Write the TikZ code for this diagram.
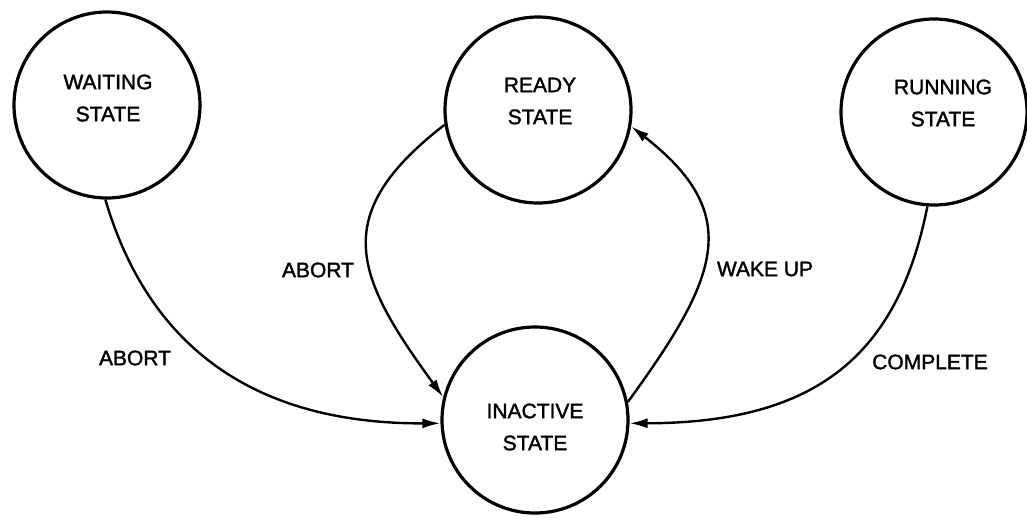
\documentclass[tikz,border=0pt]{standalone}
\usepackage{fontspec}
\setmainfont{Liberation Sans}[FakeBold=1.6,AutoFakeBold=1.6]
\usetikzlibrary{arrows.meta,calc}
\begin{document}
\begin{tikzpicture}[x=1pt,y=-1pt,
  statecircle/.style={draw,circle,line width=3.2pt,minimum size=186pt,inner sep=0pt},
  statetext/.style={align=center,font=\bfseries\fontsize{21}{32}\selectfont},
  edgelabel/.style={font=\bfseries\fontsize{21}{25}\selectfont},
  trans/.style={line width=2.4pt,-{Latex[length=18pt,width=10pt]}}]
\useasboundingbox (0,0) rectangle (1027,517);
\fill[white] (0,0) rectangle (1027,517);

% the four states
\node[statecircle] (wait)     at (107,105) {};
\node[statecircle] (ready)    at (538,110) {};
\node[statecircle] (running)  at (934,112) {};
\node[statecircle] (inactive) at (535,420) {};

\node[statetext] (waitT)     at (108,98)  {WAITING\\STATE};
\node[statetext] (readyT)    at (540,101) {READY\\STATE};
\node[statetext] (runningT)  at (943,103) {RUNNING\\STATE};
\node[statetext] (inactiveT) at (535,427) {INACTIVE\\STATE};

% transitions
\draw[trans] (wait.269) .. controls (148,344) and (251,424) .. (inactive.182);
\draw[trans] (ready.189) .. controls (328,215) and (355,276) .. (inactive.166);
\draw[trans] (inactive.11) .. controls (718,278) and (745,215) .. (ready.350);
\draw[trans] (running.266) .. controls (898,354) and (818,423) .. (inactive.358);

% transition labels
\node[edgelabel] (abortW)   at (135,358) {ABORT};
\node[edgelabel] (abortR)   at (318,270) {ABORT};
\node[edgelabel] (wakeup)   at (765,269) {WAKE UP};
\node[edgelabel] (complete) at (930,362) {COMPLETE};
\end{tikzpicture}
\end{document}
